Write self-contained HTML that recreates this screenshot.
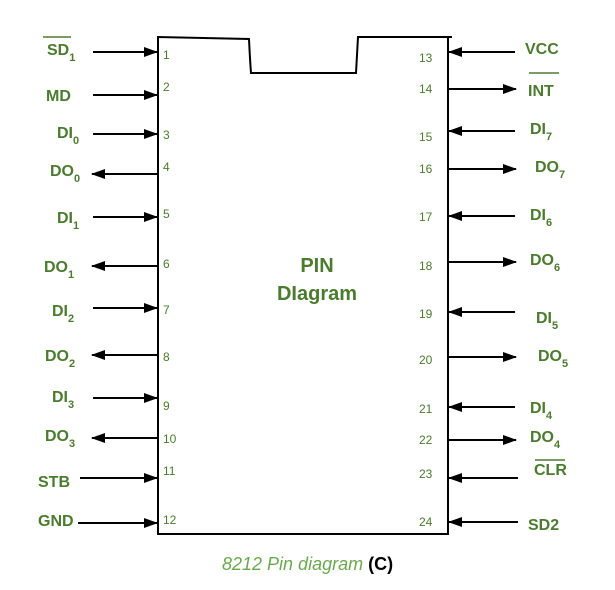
<!DOCTYPE html>
<html><head><meta charset="utf-8"><style>
body{margin:0;background:#fff}
svg text{font-family:"Liberation Sans",sans-serif}
.l{font-weight:bold;font-size:16px;fill:#4b7b2e}
.n{font-size:12px;fill:#4b7b2e}
</style></head><body>
<svg width="615" height="585" viewBox="0 0 615 585" xmlns="http://www.w3.org/2000/svg">
<defs>
<marker id="a" markerWidth="14" markerHeight="10" refX="13" refY="5" orient="auto" markerUnits="userSpaceOnUse"><path d="M0,0 L14,5 L0,10 Z" fill="#000"/></marker>
</defs>
<path d="M158,534 L158,37 L249,39 Q250,60 251,73 L356,73 L358,37 L452,37" fill="none" stroke="#000" stroke-width="2"/>
<path d="M448,37 L448,534 L157,534" fill="none" stroke="#000" stroke-width="2"/>
<g stroke="#000" stroke-width="2" marker-end="url(#a)">
<line x1="93" y1="52" x2="157" y2="52"/>
<line x1="93" y1="95" x2="157" y2="95"/>
<line x1="93" y1="134" x2="157" y2="134"/>
<line x1="158" y1="174" x2="92" y2="174"/>
<line x1="93" y1="217" x2="157" y2="217"/>
<line x1="158" y1="266" x2="92" y2="266"/>
<line x1="93" y1="308" x2="157" y2="308"/>
<line x1="158" y1="355" x2="92" y2="355"/>
<line x1="93" y1="398" x2="157" y2="398"/>
<line x1="158" y1="438" x2="92" y2="438"/>
<line x1="80" y1="478" x2="157" y2="478"/>
<line x1="78" y1="523" x2="157" y2="523"/>
<line x1="515" y1="52" x2="449" y2="52"/>
<line x1="448" y1="89" x2="516" y2="89"/>
<line x1="515" y1="131" x2="449" y2="131"/>
<line x1="448" y1="169" x2="516" y2="169"/>
<line x1="515" y1="216" x2="449" y2="216"/>
<line x1="448" y1="262" x2="516" y2="262"/>
<line x1="515" y1="312" x2="449" y2="312"/>
<line x1="448" y1="357" x2="516" y2="357"/>
<line x1="515" y1="407" x2="449" y2="407"/>
<line x1="448" y1="440" x2="516" y2="440"/>
<line x1="518" y1="478" x2="449" y2="478"/>
<line x1="518" y1="522" x2="449" y2="522"/>
</g>
<g class="n">
<text x="163" y="59">1</text><text x="163" y="91">2</text><text x="163" y="139">3</text>
<text x="163" y="171">4</text><text x="163" y="218">5</text><text x="163" y="268">6</text>
<text x="163" y="314">7</text><text x="163" y="361">8</text><text x="163" y="410">9</text>
<text x="163" y="443">10</text><text x="163" y="475">11</text><text x="163" y="524">12</text>
<text x="419" y="62">13</text><text x="419" y="93">14</text><text x="419" y="141">15</text>
<text x="419" y="173">16</text><text x="419" y="221">17</text><text x="419" y="270">18</text>
<text x="419" y="318">19</text><text x="419" y="364">20</text><text x="419" y="413">21</text>
<text x="419" y="444">22</text><text x="419" y="478">23</text><text x="419" y="526">24</text>
</g>
<g class="l">
<text x="47" y="55">SD<tspan font-size="11" dy="6">1</tspan></text>
<line x1="43" y1="37" x2="71" y2="37" stroke="#4b7b2e" stroke-width="1.5"/>
<text x="46" y="101">MD</text>
<text x="57" y="138">DI<tspan font-size="11" dy="6">0</tspan></text>
<text x="50" y="176">DO<tspan font-size="11" dy="6">0</tspan></text>
<text x="57" y="223">DI<tspan font-size="11" dy="6">1</tspan></text>
<text x="44" y="272">DO<tspan font-size="11" dy="6">1</tspan></text>
<text x="52" y="316">DI<tspan font-size="11" dy="6">2</tspan></text>
<text x="45" y="361">DO<tspan font-size="11" dy="6">2</tspan></text>
<text x="52" y="402">DI<tspan font-size="11" dy="6">3</tspan></text>
<text x="45" y="441">DO<tspan font-size="11" dy="6">3</tspan></text>
<text x="38" y="487">STB</text>
<text x="38" y="526">GND</text>
<text x="525" y="54">VCC</text>
<text x="528" y="96">INT</text>
<line x1="529" y1="73" x2="559" y2="73" stroke="#4b7b2e" stroke-width="1.5"/>
<text x="530" y="134">DI<tspan font-size="11" dy="6">7</tspan></text>
<text x="535" y="172">DO<tspan font-size="11" dy="6">7</tspan></text>
<text x="530" y="220">DI<tspan font-size="11" dy="6">6</tspan></text>
<text x="530" y="265">DO<tspan font-size="11" dy="6">6</tspan></text>
<text x="536" y="323">DI<tspan font-size="11" dy="6">5</tspan></text>
<text x="538" y="361">DO<tspan font-size="11" dy="6">5</tspan></text>
<text x="530" y="413">DI<tspan font-size="11" dy="6">4</tspan></text>
<text x="530" y="442">DO<tspan font-size="11" dy="6">4</tspan></text>
<text x="534" y="475">CLR</text>
<line x1="535" y1="460" x2="565" y2="460" stroke="#4b7b2e" stroke-width="1.5"/>
<text x="528" y="530">SD2</text>
</g>
<text x="317" y="272" text-anchor="middle" font-weight="bold" font-size="20" fill="#4b7b2e">PIN</text>
<text x="317" y="300" text-anchor="middle" font-weight="bold" font-size="20" fill="#4b7b2e">DIagram</text>
<text x="222" y="570" font-style="italic" font-size="18" fill="#6aa84f">8212 Pin diagram <tspan font-style="normal" font-weight="bold" fill="#000">(C)</tspan></text>
</svg>
</body></html>
